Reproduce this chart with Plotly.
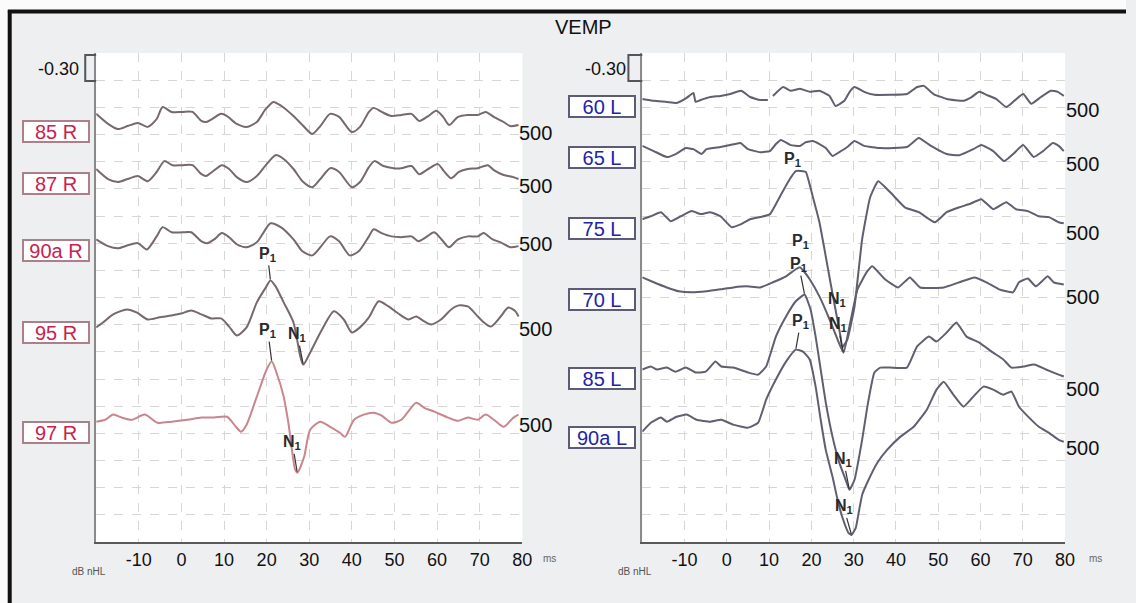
import plotly.graph_objects as go

W, H = 1136, 603

# ---------------- data (time in ms, amplitude in grid divisions) ----------------
TIME_TICKS = [-10, 0, 10, 20, 30, 40, 50, 60, 70, 80]

R85_T = [-20, -17.2, -14.9, -12.6, -10.2, -7.9, -5.8, -4.4, -2.3, 0.2, 2.6, 4.7, 5.8, 7.2, 9.3, 10.7, 13.0, 15.3, 17.7, 19.8,
         21.6, 23.5, 26.3, 28.4, 30.7, 32.6, 34.9, 37.0, 40.0, 41.9, 44.0, 45.1, 47.0, 49.3, 51.6, 54.0, 55.8, 57.9, 59.8,
         61.4, 62.8, 64.9, 67.2, 69.5, 71.4, 73.3, 75.6, 77.2, 79.1]
R85_V = [15.76, 15.39, 15.20, 15.31, 15.42, 15.28, 15.57, 16.01, 15.83, 15.83, 15.83, 15.50, 15.46, 15.57, 15.76, 15.68,
         15.39, 15.28, 15.46, 15.94, 16.20, 16.05, 15.68, 15.35, 15.02, 15.31, 15.76, 15.65, 15.09, 15.28, 15.83, 15.98,
         15.83, 15.68, 15.72, 15.76, 15.50, 15.68, 15.87, 15.65, 15.35, 15.65, 15.72, 15.72, 15.83, 15.65, 15.46, 15.31, 15.35]

R87_T = [-20, -17.2, -14.9, -12.6, -10.2, -7.9, -5.8, -4.0, -2.1, 0.2, 2.6, 4.7, 5.8, 7.2, 9.5, 11.2, 13.0, 15.3, 17.7, 20.0,
         22.1, 24.0, 26.3, 28.4, 30.7, 32.6, 34.9, 37.0, 40.0, 41.9, 44.0, 45.3, 47.4, 49.8, 51.6, 54.0, 55.8, 57.9, 60.2,
         61.6, 63.3, 65.1, 67.2, 69.5, 71.9, 73.3, 75.6, 77.9, 79.1]
R87_V = [13.73, 13.36, 13.25, 13.36, 13.47, 13.28, 13.62, 14.02, 13.87, 13.87, 13.87, 13.54, 13.47, 13.62, 13.87, 13.73,
         13.43, 13.25, 13.47, 13.91, 14.24, 14.10, 13.73, 13.28, 13.06, 13.36, 13.76, 13.62, 13.06, 13.25, 13.80, 14.02,
         13.84, 13.76, 13.76, 13.84, 13.54, 13.73, 13.91, 13.65, 13.39, 13.62, 13.73, 13.76, 13.87, 13.69, 13.51, 13.43, 13.36]

R90_T = [-20, -17.2, -14.9, -12.6, -10.2, -8.1, -5.8, -4.4, -2.3, 0.2, 2.3, 4.7, 6.0, 7.7, 9.5, 11.2, 13.0, 15.3, 17.7, 19.3,
         20.9, 23.3, 26.3, 28.4, 30.7, 32.6, 34.9, 37.0, 39.5, 41.6, 44.0, 45.1, 47.0, 49.3, 51.6, 54.0, 55.6, 57.4, 59.3,
         61.4, 62.8, 64.9, 67.2, 69.5, 70.9, 73.0, 74.9, 77.2, 79.1]
R90_V = [11.14, 10.89, 10.81, 10.92, 11.00, 10.77, 11.25, 11.59, 11.40, 11.40, 11.40, 11.07, 11.00, 11.14, 11.37, 11.22,
         10.96, 10.85, 11.03, 11.40, 11.73, 11.59, 11.14, 10.70, 10.55, 10.85, 11.25, 11.07, 10.55, 10.70, 11.25, 11.51,
         11.37, 11.25, 11.22, 11.25, 11.07, 11.22, 11.40, 11.07, 10.85, 11.14, 11.25, 11.25, 11.37, 11.14, 11.03, 10.85, 10.89]

R95_T = [-20, -18.4, -16.0, -12.8, -10.5, -7.9, -5.1, -2.3, 0.0, 2.3, 4.7, 7.0, 9.3, 11.2, 13.0, 15.3, 17.7, 19.8, 20.9,
         22.1, 24.0, 26.3, 27.9, 28.6, 30.2, 33.0, 35.8, 38.1, 40.0, 41.9, 44.0, 46.3, 48.6, 50.9, 53.3, 55.1, 57.0, 58.6,
         60.9, 63.3, 65.1, 67.2, 69.1, 70.7, 72.6, 74.9, 76.7, 78.4, 79.1]
R95_V = [7.90, 8.08, 8.38, 8.56, 8.45, 8.19, 8.27, 8.34, 8.41, 8.52, 8.38, 8.23, 8.23, 7.93, 7.60, 7.90, 8.82, 9.37, 9.63,
         9.41, 8.82, 8.08, 6.83, 6.53, 6.97, 7.82, 8.49, 8.19, 7.71, 7.90, 8.27, 8.86, 8.67, 8.41, 8.19, 8.30, 8.12, 8.01,
         8.19, 8.56, 8.71, 8.67, 8.38, 8.12, 7.93, 8.30, 8.63, 8.49, 8.30]

R97_T = [-20, -17.9, -16.0, -14.0, -11.6, -8.6, -5.6, -2.3, 1.4, 4.7, 7.7, 10.7, 12.8, 14.0, 15.3, 17.7, 20.0, 21.2, 22.3,
         24.0, 25.1, 26.7, 27.2, 28.8, 30.2, 32.6, 34.9, 37.2, 38.4, 40.5, 42.8, 45.1, 47.0, 49.3, 51.6, 55.1, 57.0, 59.3,
         62.6, 64.9, 67.2, 69.5, 71.4, 73.3, 75.6, 77.9, 79.1]
R97_V = [4.43, 4.50, 4.69, 4.58, 4.50, 4.69, 4.39, 4.43, 4.50, 4.58, 4.58, 4.61, 4.24, 4.06, 4.32, 5.35, 6.35, 6.64, 6.24,
         5.35, 4.39, 2.66, 2.55, 3.14, 4.13, 4.43, 4.24, 4.02, 3.87, 4.50, 4.69, 4.76, 4.65, 4.39, 4.50, 5.13, 4.94, 4.80,
         4.58, 4.46, 4.58, 4.50, 4.69, 4.50, 4.24, 4.58, 4.69]

L60_T = [-20, -17.3, -14.2, -11.9, -9.5, -7.9, -7.4, -6.2, -3.9, -1.5, 0.8, 3.4, 5.5, 7.9, 9.7, 10.3, 10.9, 13.3, 15.1,
         17.3, 19.6, 21.9, 24.3, 25.7, 27.8, 29.2, 30.2, 32.5, 34.9, 38.6, 42.6, 45.0, 46.6, 48.9, 52.0, 56.0, 57.9, 59.7,
         61.4, 63.7, 66.1, 68.0, 70.1, 72.0, 74.3, 76.6, 78.3, 79.7]
L60_V = [16.31, 16.24, 16.20, 16.16, 16.35, 16.53, 16.20, 16.27, 16.38, 16.42, 16.49, 16.61, 16.38, 16.27, 16.27, None,
         16.42, 16.75, 16.61, 16.68, 16.57, 16.61, 16.42, 16.05, 16.24, 16.61, 16.75, 16.57, 16.46, 16.46, 16.49, 16.75,
         16.79, 16.49, 16.31, 16.24, 16.38, 16.57, 16.46, 16.31, 16.01, 16.24, 16.49, 16.13, 16.38, 16.61, 16.57, 16.42]

L65_T = [-20, -17.3, -14.2, -12.1, -9.7, -7.9, -6.0, -4.8, -1.5, 0.8, 3.2, 5.0, 7.9, 10.2, 11.6, 12.8, 15.1, 17.3, 18.7,
         20.3, 21.9, 23.4, 25.0, 26.6, 28.5, 30.2, 32.5, 36.4, 42.6, 45.4, 48.0, 52.0, 55.0, 58.3, 60.2, 63.0, 65.6, 67.7,
         70.1, 72.6, 74.8, 77.1, 78.5, 79.7]
L65_V = [14.58, 14.39, 14.17, 14.28, 14.50, 14.46, 14.28, 14.46, 14.54, 14.61, 14.69, 14.46, 14.35, 14.39, 14.65, 14.80,
         14.61, 14.58, 14.72, 14.76, 14.65, 14.50, 14.21, 14.35, 14.54, 14.76, 14.58, 14.50, 14.54, 14.87, 14.61, 14.28,
         14.24, 14.46, 14.61, 14.39, 14.02, 14.28, 14.61, 14.17, 14.39, 14.69, 14.58, 14.39]

L75_T = [-20, -18.0, -15.6, -13.3, -10.9, -8.3, -6.2, -3.9, -1.5, 1.1, 3.4, 5.5, 7.9, 10.2, 12.6, 14.9, 16.3, 18.0, 18.7,
         20.3, 21.9, 23.1, 24.5, 25.7, 26.9, 27.3, 28.5, 30.2, 32.0, 33.9, 35.8, 38.6, 42.1, 45.4, 49.2, 52.0, 55.0, 57.4,
         60.2, 63.0, 66.1, 68.4, 71.2, 73.8, 76.2, 78.5, 79.7]
L75_V = [11.88, 11.99, 12.14, 11.81, 11.99, 12.18, 12.07, 12.14, 11.99, 11.59, 11.70, 11.88, 11.96, 12.07, 12.73, 13.36,
         13.65, 13.65, 13.62, 12.73, 11.77, 10.77, 9.56, 8.56, 7.56, 7.16, 7.45, 8.67, 11.14, 12.69, 13.28, 12.88, 12.32,
         12.14, 11.77, 12.14, 12.32, 12.44, 12.62, 12.25, 12.51, 12.25, 12.18, 11.99, 11.96, 11.77, 11.73]

L70_T = [-20, -17.3, -14.2, -11.4, -8.3, -4.8, -1.5, 1.5, 4.6, 7.9, 10.9, 14.0, 16.3, 17.3, 18.4, 19.6, 21.9, 24.3, 26.2,
         27.6, 29.0, 30.9, 33.2, 34.4, 37.4, 40.5, 43.3, 45.7, 51.3, 55.0, 58.6, 61.4, 64.4, 67.7, 69.1, 71.2, 73.1, 75.9,
         77.3, 79.7]
L70_V = [9.74, 9.56, 9.37, 9.23, 9.19, 9.23, 9.30, 9.37, 9.41, 9.37, 9.56, 9.78, 10.04, 10.11, 9.93, 9.67, 9.04, 8.19,
         7.45, 6.97, 7.93, 9.30, 9.96, 10.15, 9.67, 9.37, 9.74, 9.37, 9.37, 9.56, 9.74, 9.56, 9.30, 9.19, 9.56, 9.70, 9.41,
         9.78, 9.56, 9.48]

L85_T = [-20, -18.0, -16.5, -14.2, -12.1, -9.7, -7.4, -5.0, -2.7, -1.3, 1.5, 5.0, 7.4, 9.3, 11.6, 14.0, 16.3, 18.4, 19.8,
         21.0, 22.2, 23.4, 25.0, 26.6, 28.1, 29.0, 30.2, 32.0, 33.4, 34.9, 36.3, 38.6, 42.6, 45.0, 47.8, 49.6, 52.0, 54.3,
         56.7, 59.7, 63.0, 65.4, 67.3, 70.1, 72.7, 75.5, 78.5, 79.7]
L85_V = [6.35, 6.46, 6.35, 6.42, 6.27, 6.42, 6.24, 6.27, 6.64, 6.46, 6.42, 6.24, 6.16, 6.46, 7.56, 8.30, 8.86, 9.11, 8.56,
         7.56, 6.35, 5.13, 3.87, 2.92, 2.29, 1.92, 2.29, 3.76, 5.13, 6.24, 6.42, 6.42, 6.42, 7.20, 7.56, 7.38, 7.71, 8.08,
         7.56, 7.34, 6.97, 6.72, 6.42, 6.46, 6.53, 6.35, 6.16, 6.09]

L90_T = [-20, -18.0, -15.6, -14.2, -11.9, -9.5, -7.2, -3.9, -1.3, 1.5, 5.0, 7.4, 9.3, 11.6, 14.0, 16.3, 18.0, 19.6, 21.0,
         22.2, 23.4, 25.0, 26.2, 27.3, 28.8, 29.5, 30.5, 31.3, 32.0, 33.2, 35.6, 37.9, 41.0, 44.2, 47.3, 49.6, 51.3, 53.6,
         56.0, 58.3, 60.7, 63.0, 65.4, 67.3, 69.1, 71.5, 73.8, 76.2, 78.5, 79.7]
L90_V = [4.06, 4.39, 4.58, 4.43, 4.61, 4.69, 4.50, 4.43, 4.50, 4.32, 4.21, 4.39, 5.24, 5.98, 6.64, 7.08, 7.01, 6.72, 5.72,
         4.50, 3.39, 2.40, 1.55, 0.92, 0.33, 0.26, 0.52, 1.18, 1.73, 2.18, 2.92, 3.39, 3.87, 4.24, 4.87, 5.61, 5.90, 5.42,
         4.98, 5.35, 5.72, 5.61, 5.42, 5.54, 4.98, 4.58, 4.24, 4.02, 3.76, 3.69]

RIGHT_EAR = [("85 R", R85_T, R85_V), ("87 R", R87_T, R87_V), ("90a R", R90_T, R90_V),
             ("95 R", R95_T, R95_V), ("97 R", R97_T, R97_V)]
LEFT_EAR = [("60 L", L60_T, L60_V), ("65 L", L65_T, L65_V), ("75 L", L75_T, L75_V),
            ("70 L", L70_T, L70_V), ("85 L", L85_T, L85_V), ("90a L", L90_T, L90_V)]
GAIN_LABEL = "500"

# ---------------- helpers ----------------
def px(x):
    return x / W


def py(y):
    return 1 - y / H


FONT = "Liberation Sans, Arial, sans-serif"
R_TRACE = "#76686b"
R97_TRACE = "#c9868d"
L_TRACE = "#5f5f6f"

fig = go.Figure()

for name, t, v in RIGHT_EAR:
    col = R97_TRACE if name == "97 R" else R_TRACE
    fig.add_trace(go.Scatter(x=t, y=v, mode="lines", name=name, xaxis="x", yaxis="y",
                             line=dict(color=col, width=2, shape="spline", smoothing=0.7),
                             connectgaps=False, showlegend=False, hoverinfo="skip"))
for name, t, v in LEFT_EAR:
    fig.add_trace(go.Scatter(x=t, y=v, mode="lines", name=name, xaxis="x2", yaxis="y2",
                             line=dict(color=L_TRACE, width=2, shape="spline", smoothing=0.4),
                             connectgaps=False, showlegend=False, hoverinfo="skip"))

axis_x = dict(range=[-20, 80], tickvals=TIME_TICKS, ticktext=[str(v) for v in TIME_TICKS],
              showgrid=True, gridcolor="#d6d6d6", griddash="dash", gridwidth=1,
              showline=True, linecolor="#5a5a5a", linewidth=2, zeroline=False,
              ticks="", tickfont=dict(family=FONT, size=18, color="#111"), fixedrange=True)
axis_y = dict(range=[0, 18], tickvals=list(range(0, 19)), showticklabels=False,
              showgrid=True, gridcolor="#d6d6d6", griddash="dash", gridwidth=1,
              showline=True, linecolor="#8a8a8a", linewidth=1.5, zeroline=False,
              ticks="", fixedrange=True)

ydom = [py(542), py(53)]
fig.update_layout(
    width=W, height=H,
    margin=dict(l=0, r=0, t=0, b=0),
    paper_bgcolor="#eeeff0",
    plot_bgcolor="#ffffff",
    showlegend=False,
    xaxis=dict(axis_x, domain=[px(97), px(527)], anchor="y"),
    yaxis=dict(axis_y, domain=ydom, anchor="x"),
    xaxis2=dict(axis_x, domain=[px(648), px(1074.5)], anchor="y2"),
    yaxis2=dict(axis_y, domain=ydom, anchor="x2"),
)

shapes = []
# white margins outside the black frame
shapes.append(dict(type="rect", xref="paper", yref="paper", x0=0, x1=1, y0=py(10), y1=1,
                   fillcolor="#fbfbfb", line=dict(width=0), layer="below"))
shapes.append(dict(type="rect", xref="paper", yref="paper", x0=0, x1=px(8), y0=0, y1=1,
                   fillcolor="#fbfbfb", line=dict(width=0), layer="below"))
# black frame (top and left)
shapes.append(dict(type="line", xref="paper", yref="paper", x0=px(8), x1=1, y0=py(11.5), y1=py(11.5),
                   line=dict(color="#111", width=4)))
shapes.append(dict(type="line", xref="paper", yref="paper", x0=px(9.8), x1=px(9.8), y0=0, y1=py(10),
                   line=dict(color="#111", width=4)))


def bracket(xl, xr, yt, yb):
    return (f"M {px(xr)},{py(yt)} L {px(xl)},{py(yt)} L {px(xl)},{py(yb)} L {px(xr)},{py(yb)}")


for xl, xr in [(86, 97), (634, 648)]:
    shapes.append(dict(type="path", xref="paper", yref="paper", path=bracket(xl, xr, 55, 81),
                       line=dict(color="#555", width=2)))
fig.update_layout(shapes=shapes)

ann = []
ann.append(dict(x=px(589), y=py(27), xref="paper", yref="paper", text="VEMP", showarrow=False,
                font=dict(family=FONT, size=20, color="#111"), xanchor="center", yanchor="middle"))
for cx in [59, 611]:
    ann.append(dict(x=px(cx), y=py(69), xref="paper", yref="paper", text="-0.30", showarrow=False,
                    font=dict(family=FONT, size=18, color="#111"), xanchor="center", yanchor="middle"))
for cx in [90, 641]:
    ann.append(dict(x=px(cx), y=py(571), xref="paper", yref="paper", text="dB nHL", showarrow=False,
                    font=dict(family=FONT, size=10, color="#555"), xanchor="center", yanchor="middle"))
for cx in [554, 1105]:
    ann.append(dict(x=px(cx), y=py(558), xref="paper", yref="paper", text="ms", showarrow=False,
                    font=dict(family=FONT, size=10, color="#666"), xanchor="center", yanchor="middle"))

# trace name boxes and gain labels
R_BOX_Y = [131, 184, 250, 332, 432]
R_GAIN_Y = [133, 186, 244, 329, 425]
L_BOX_Y = [107, 157, 229, 299, 378, 437]
L_GAIN_Y = [110, 164, 233, 297, 389, 448]

for (name, _, _), by, gy in zip(RIGHT_EAR, R_BOX_Y, R_GAIN_Y):
    ann.append(dict(x=px(57), y=py(by), xref="paper", yref="paper", text=name, showarrow=False,
                    font=dict(family=FONT, size=20, color="#c8234d"), bgcolor="#ffffff",
                    bordercolor="#ad8089", borderwidth=2, borderpad=0, width=64, height=19,
                    xanchor="center", yanchor="middle"))
    ann.append(dict(x=px(540), y=py(gy), xref="paper", yref="paper", text=GAIN_LABEL, showarrow=False,
                    font=dict(family=FONT, size=20, color="#111"), xanchor="center", yanchor="middle"))
for (name, _, _), by, gy in zip(LEFT_EAR, L_BOX_Y, L_GAIN_Y):
    ann.append(dict(x=px(607), y=py(by), xref="paper", yref="paper", text=name, showarrow=False,
                    font=dict(family=FONT, size=20, color="#2323a8"), bgcolor="#ffffff",
                    bordercolor="#5c5c78", borderwidth=2, borderpad=0, width=64, height=19,
                    xanchor="center", yanchor="middle"))
    ann.append(dict(x=px(1092), y=py(gy), xref="paper", yref="paper", text=GAIN_LABEL, showarrow=False,
                    font=dict(family=FONT, size=20, color="#111"), xanchor="center", yanchor="middle"))


def extreme(t, v, lo, hi, kind):
    pts = [(tt, vv) for tt, vv in zip(t, v) if vv is not None and lo <= tt <= hi]
    return max(pts, key=lambda p: p[1]) if kind == "P" else min(pts, key=lambda p: p[1])


# (trace, panel, kind, ax, ay, arrow)
WAVE_MARKS = [
    (R95_T, R95_V, 1, "P", -3, -26, True),
    (R95_T, R95_V, 1, "N", -6, -30, True),
    (R97_T, R97_V, 1, "P", -4, -31, True),
    (R97_T, R97_V, 1, "N", -5, -30, True),
    (L75_T, L75_V, 2, "P", -3, -12, False),
    (L70_T, L70_V, 2, "P", 1, -26, False),
    (L85_T, L85_V, 2, "P", -6, -30, True),
    (L90_T, L90_V, 2, "P", 5, -28, True),
    (L75_T, L75_V, 2, "N", -5, -48, False),
    (L70_T, L70_V, 2, "N", -6, -28, True),
    (L85_T, L85_V, 2, "N", -6, -30, True),
    (L90_T, L90_V, 2, "N", -8, -28, True),
]
for t, v, panel, kind, axo, ayo, arrow in WAVE_MARKS:
    if kind == "P":
        xx, yy = extreme(t, v, 10, 25, "P")
    else:
        xx, yy = extreme(t, v, 24, 34, "N")
    xr = "x" if panel == 1 else "x2"
    yr = "y" if panel == 1 else "y2"
    ann.append(dict(x=xx, y=yy, xref=xr, yref=yr, text=f"<b>{kind}<sub>1</sub></b>",
                    showarrow=True, arrowhead=0, arrowwidth=1.2,
                    arrowcolor="#333" if arrow else "rgba(0,0,0,0)",
                    ax=axo, ay=ayo, standoff=1,
                    font=dict(family=FONT, size=16, color="#2a2a2a")))

fig.update_layout(annotations=ann)

fig.write_html("out.html", config={"displayModeBar": False},
               post_script="document.body.style.margin='0';")
